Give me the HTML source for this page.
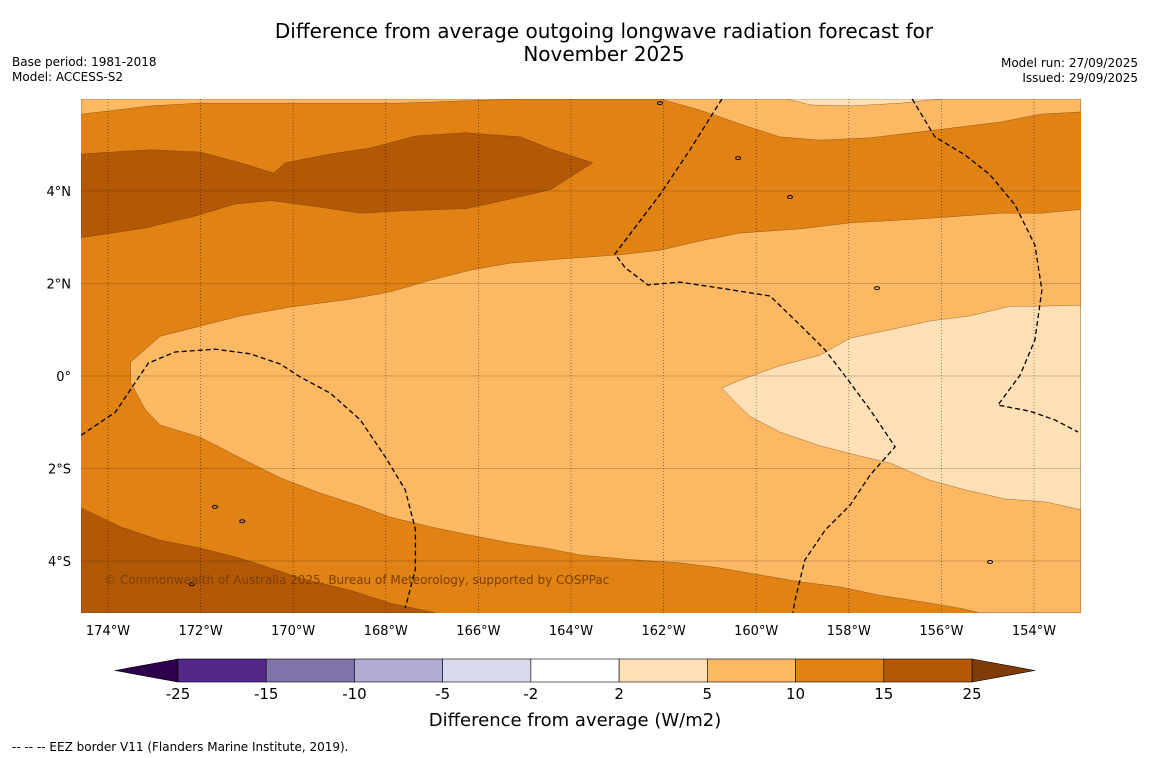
<!DOCTYPE html>
<html><head><meta charset="utf-8">
<style>
body{margin:0;background:#fff;font-family:"Liberation Sans","DejaVu Sans",sans-serif;}
#wrap{position:relative;width:1150px;height:758px;overflow:hidden;}
</style></head>
<body>
<div id="wrap">
<svg id="svg" width="1150" height="758" xmlns="http://www.w3.org/2000/svg">
<text x="604" y="38" font-size="20" text-anchor="middle" fill="#000" font-family="DejaVu Sans, sans-serif">Difference from average outgoing longwave radiation forecast for</text>
<text x="604" y="61" font-size="20" text-anchor="middle" fill="#000" font-family="DejaVu Sans, sans-serif">November 2025</text>
<text x="12" y="66" font-size="12" font-family="DejaVu Sans, sans-serif">Base period: 1981-2018</text>
<text x="12" y="81" font-size="12" font-family="DejaVu Sans, sans-serif">Model: ACCESS-S2</text>
<text x="1138" y="67" font-size="12" text-anchor="end" font-family="DejaVu Sans, sans-serif">Model run: 27/09/2025</text>
<text x="1138" y="82" font-size="12" text-anchor="end" font-family="DejaVu Sans, sans-serif">Issued: 29/09/2025</text>
<g id="map"></g>
<g id="cbar"></g>
<text x="575" y="726" font-size="18" text-anchor="middle" font-family="DejaVu Sans, sans-serif">Difference from average (W/m2)</text>
<text x="12" y="751" font-size="12" font-family="DejaVu Sans, sans-serif">--  --  -- EEZ border V11 (Flanders Marine Institute, 2019).</text>
</svg>
</div>
<script>
// axis extents
const lonMin=-174.583, lonMax=-152.985, latMin=-5.124, latMax=5.989;
const lonTicks=[-174,-172,-170,-168,-166,-164,-162,-160,-158,-156,-154];
const lonLabels=["174°W","172°W","170°W","168°W","166°W","164°W","162°W","160°W","158°W","156°W","154°W"];
const latTicks=[4,2,0,-2,-4];
const latLabels=["4°N","2°N","0°","2°S","4°S"];
const cbarBounds=[-25,-15,-10,-5,-2,2,5,10,15,25];
const cbarColors=["#542788","#8073ac","#b2abd2","#d8daeb","#ffffff","#fee0b6","#fdb863","#e08214","#b35806"];
const band15a=[[-174.58,4.80],[-173.08,4.89],[-172.0,4.84],[-171.14,4.61],[-170.42,4.39],[-170.17,4.61],[-169.2,4.80],[-168.33,4.93],[-167.36,5.19],[-166.28,5.26],[-165.09,5.17],[-164.44,4.91],[-163.53,4.61],[-164.44,4.03],[-165.30,3.83],[-166.25,3.62],[-167.68,3.57],[-168.54,3.52],[-169.62,3.68],[-170.48,3.79],[-171.24,3.72],[-172.11,3.46],[-173.19,3.20],[-174.58,2.99]];
const band15b=[[-174.58,-2.85],[-173.73,-3.26],[-172.87,-3.55],[-172.0,-3.72],[-171.14,-3.94],[-170.49,-4.15],[-169.85,-4.37],[-168.77,-4.63],[-167.90,-4.91],[-166.93,-5.12],[-174.58,-5.12]];
const band5top=[[-174.58,5.99],[-174.58,5.66],[-173.08,5.84],[-172.0,5.90],[-167.68,5.90],[-165.09,5.99],[-162.07,5.99],[-161.21,5.75],[-160.35,5.45],[-159.49,5.17],[-158.62,5.10],[-157.54,5.15],[-156.46,5.28],[-154.73,5.49],[-153.86,5.66],[-152.99,5.71],[-152.99,5.99]];
const band2top=[[-159.34,5.99],[-158.81,5.86],[-157.94,5.84],[-156.86,5.90],[-156.0,5.99]];
const band5main=[[-152.99,3.60],[-153.86,3.52],[-154.73,3.52],[-155.81,3.44],[-156.89,3.37],[-157.97,3.31],[-159.05,3.18],[-160.35,3.09],[-161.21,2.92],[-162.07,2.72],[-162.94,2.62],[-164.23,2.53],[-165.31,2.44],[-166.17,2.29],[-167.04,2.07],[-167.90,1.82],[-168.77,1.66],[-170.06,1.49],[-171.14,1.30],[-172.0,1.08],[-172.87,0.86],[-173.51,0.30],[-173.51,-0.15],[-173.19,-0.73],[-172.87,-1.06],[-172.0,-1.33],[-171.14,-1.77],[-170.28,-2.20],[-169.42,-2.53],[-168.55,-2.81],[-167.90,-3.05],[-167.04,-3.26],[-166.17,-3.44],[-165.31,-3.61],[-164.55,-3.72],[-163.80,-3.87],[-162.72,-3.97],[-161.64,-4.04],[-160.78,-4.15],[-159.92,-4.30],[-159.05,-4.45],[-158.19,-4.56],[-157.33,-4.74],[-156.25,-4.91],[-155.60,-5.02],[-155.17,-5.12],[-152.99,-5.12],[-152.99,-2.89]];
const band2main=[[-152.99,1.53],[-153.86,1.51],[-154.51,1.51],[-155.38,1.30],[-156.25,1.19],[-157.11,1.00],[-157.97,0.82],[-158.62,0.45],[-159.49,0.22],[-160.35,-0.09],[-160.74,-0.26],[-160.46,-0.56],[-160.14,-0.87],[-159.49,-1.21],[-158.62,-1.51],[-157.76,-1.73],[-157.11,-1.88],[-156.25,-2.25],[-155.49,-2.46],[-154.62,-2.66],[-153.76,-2.72],[-152.99,-2.89]];
const eez1=[[-174.58,-1.28],[-173.84,-0.78],[-173.13,0.28],[-172.55,0.52],[-171.68,0.58],[-170.93,0.48],[-170.28,0.26],[-169.85,-0.02],[-169.20,-0.37],[-168.55,-0.95],[-168.01,-1.75],[-167.58,-2.46],[-167.36,-3.31],[-167.36,-4.18],[-167.58,-5.02]];
const eez2=[[-160.74,5.99],[-161.43,4.89],[-162.08,3.92],[-163.05,2.64],[-162.83,2.34],[-162.34,1.97],[-161.65,2.03],[-160.78,1.90],[-159.70,1.73],[-159.05,1.10],[-158.51,0.56],[-158.08,0.00],[-157.54,-0.73],[-157.00,-1.53],[-157.54,-2.14],[-157.97,-2.79],[-158.51,-3.33],[-158.95,-3.98],[-159.16,-4.84],[-159.21,-5.12]];
const eez3=[[-156.63,5.99],[-156.14,5.17],[-155.49,4.78],[-154.95,4.35],[-154.41,3.70],[-153.98,2.83],[-153.83,1.86],[-153.98,0.78],[-154.30,0.02],[-154.78,-0.63],[-154.09,-0.76],[-153.55,-0.95],[-153.05,-1.21]];
const islands=[[-171.69,-2.83],[-159.27,3.87],[-157.39,1.90],[-160.39,4.71],[-172.19,-4.50],[-154.95,-4.02],[-171.1,-3.14],[-162.08,5.9]];

const NS="http://www.w3.org/2000/svg";
const X0=81,X1=1081,Y0=99,Y1=613;
function xS(lon){return X0+(lon-lonMin)/(lonMax-lonMin)*(X1-X0);}
function yS(lat){return Y0+(latMax-lat)/(latMax-latMin)*(Y1-Y0);}
function pts(a){return a.map(p=>xS(p[0]).toFixed(1)+","+yS(p[1]).toFixed(1)).join(" ");}
function mk(tag,attrs,parent){const e=document.createElementNS(NS,tag);for(const k in attrs)e.setAttribute(k,attrs[k]);parent.appendChild(e);return e;}
const map=document.getElementById("map");
const defs=mk("defs",{},map);
const cp=mk("clipPath",{id:"clip"},defs);
mk("rect",{x:X0,y:Y0,width:X1-X0,height:Y1-Y0},cp);
const g=mk("g",{"clip-path":"url(#clip)"},map);
const bg=mk("rect",{x:X0,y:Y0,width:X1-X0,height:Y1-Y0,fill:"#e08214"},g);


const bands=[[band15a,"#b35806","band-15-25-north"],[band15b,"#b35806","band-15-25-south"],[band5top,"#fdb863","band-5-10-north"],[band2top,"#fee0b6","band-2-5-north"],[band5main,"#fdb863","band-5-10-main"],[band2main,"#fee0b6","band-2-5-main"]];
bands.forEach(b=>{
  const p=mk("polygon",{points:pts(b[0]),fill:b[1],stroke:"#5a3000","stroke-width":"0.5","stroke-opacity":"0.6"},g);
  
  
});
lonTicks.forEach((t,i)=>{
  const l=mk("line",{x1:xS(t),x2:xS(t),y1:Y0,y2:Y1,stroke:"#000","stroke-width":"0.7","stroke-dasharray":"1,2","stroke-opacity":"0.6"},g);
  
  
  const tx=mk("text",{x:xS(t),y:635,"font-size":"13","text-anchor":"middle","font-family":"DejaVu Sans, sans-serif"},map);
  tx.textContent=lonLabels[i];
  
  
});
latTicks.forEach((t,i)=>{
  const l=mk("line",{x1:X0,x2:X1,y1:yS(t),y2:yS(t),stroke:"#000","stroke-width":"0.5","stroke-opacity":"0.35"},g);
  
  
  const tx=mk("text",{x:71,y:yS(t)+5,"font-size":"13","text-anchor":"end","font-family":"DejaVu Sans, sans-serif"},map);
  tx.textContent=latLabels[i];
  
  
});
[eez1,eez2,eez3].forEach(e=>{
  const p=mk("polyline",{points:pts(e),fill:"none",stroke:"#000","stroke-width":"1.3","stroke-dasharray":"5,3"},g);
  
  
});
islands.forEach(s=>{
  const c=mk("ellipse",{cx:xS(s[0]),cy:yS(s[1]),rx:2.5,ry:1.5,fill:"none",stroke:"#000","stroke-width":"1"},g);
  
  
});
const cr=mk("text",{x:104,y:584,"font-size":"12","fill":"#7a3f00","font-family":"DejaVu Sans, sans-serif"},g);
cr.textContent="© Commonwealth of Australia 2025, Bureau of Meteorology, supported by COSPPac";



// colorbar
const cb=document.getElementById("cbar");
const CX0=178,CX1=972,CY=659,CH=23;
function cx(i){return CX0+i*(CX1-CX0)/(cbarBounds.length-1);}
const tl=mk("polygon",{points:`${CX0},${CY} 115,${CY+CH/2} ${CX0},${CY+CH}`,fill:"#2d004b",stroke:"#000","stroke-width":"0.6"},cb);


const tr=mk("polygon",{points:`${CX1},${CY} 1035,${CY+CH/2} ${CX1},${CY+CH}`,fill:"#7f3b08",stroke:"#000","stroke-width":"0.6"},cb);


cbarColors.forEach((c,i)=>{
  const r=mk("rect",{x:cx(i),y:CY,width:cx(i+1)-cx(i),height:CH,fill:c,stroke:"#000","stroke-width":"0.6"},cb);
  
  
});
cbarBounds.forEach((v,i)=>{
  const t=mk("text",{x:cx(i),y:699,"font-size":"15","text-anchor":"middle","font-family":"DejaVu Sans, sans-serif"},cb);
  t.textContent=String(v);
  
  
});
</script>
</body></html>
